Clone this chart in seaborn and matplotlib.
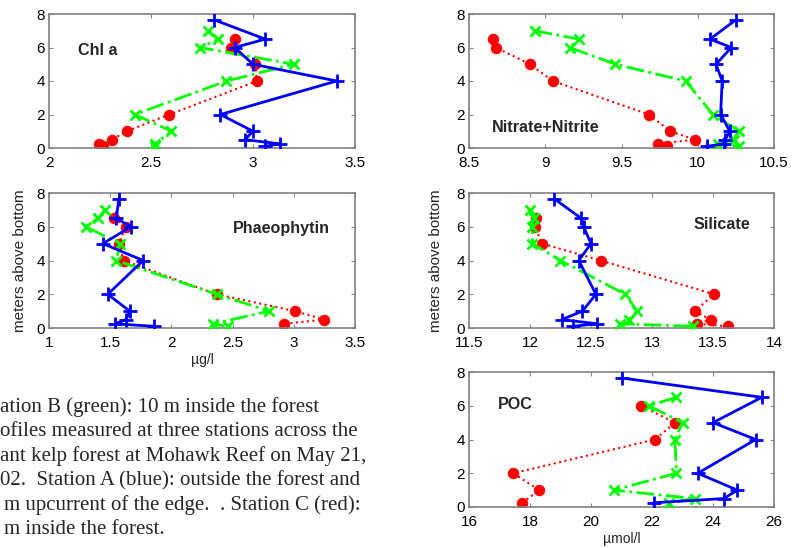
import numpy as np
import pandas as pd
import matplotlib
matplotlib.use("Agg")
import matplotlib.pyplot as plt
import seaborn as sns

sns.set_style("white")
plt.rcParams['font.family'] = ['Liberation Sans', 'DejaVu Sans']

nan = np.nan
# depths (meters above bottom)
depth_A = [7.65, 6.5, 6, 5, 4, 2, 1, 0.5, 0.25, 0.1]
depth_B = [7, 6.5, 6, 5, 4, 2, 1, 0.5, 0.25, 0.1]
depth_C = [6.5, 6, 5, 4, 2, 1, 0.5, 0.25, 0.1]

# Chl a (ug/l)
chl_A = [2.81, 3.06, 2.91, 3.0, 3.41, 2.84, 3.0, 2.96, 3.13, 3.06]
chl_B = [2.78, 2.83, 2.74, 3.20, 2.87, 2.42, 2.60, nan, 2.52, 2.52]
chl_C = [2.91, 2.89, 3.01, 3.02, 2.59, 2.38, 2.31, 2.245, 2.265]

# Nitrate+Nitrite (umol/l)
nit_A = [10.25, 10.08, 10.22, 10.12, 10.16, 10.15, 10.21, 10.18, 10.17, 10.06]
nit_B = [8.93, 9.22, 9.16, 9.46, 9.92, 10.10, 10.27, 10.24, 10.13, 10.27]
nit_C = [8.66, 8.675, 8.90, 9.05, 9.68, 9.82, 9.98, 9.74, 9.80]

# Phaeophytin (ug/l)
pha_A = [1.57, 1.55, 1.67, 1.44, 1.77, 1.48, 1.66, 1.63, 1.54, 1.86]
pha_B = [1.46, 1.40, 1.30, 1.58, 1.55, 2.37, 2.80, nan, 2.34, 2.46]
pha_C = [1.53, 1.63, 1.57, 1.61, 2.37, 3.01, 3.25, 2.92, nan]

# Silicate (umol/l)
sil_A = [12.20, 12.42, 12.44, 12.50, 12.40, 12.54, 12.43, 12.26, 12.55, 12.35]
sil_B = [12.00, 12.03, 12.02, 12.02, 12.25, 12.78, 12.88, 12.81, 12.74, 13.34]
sil_C = [12.05, 12.04, 12.10, 12.58, 13.51, 13.35, 13.48, 13.37, 13.62]

# POC (umol/l)
poc_A = [21.0, 25.6, nan, 24.0, 25.4, 23.5, 24.8, 24.35, 22.05, nan]
poc_B = [nan, 22.8, 21.9, 23.0, 22.75, 22.8, 20.75, 23.4, 22.55, nan]
poc_C = [nan, 21.65, 22.75, 22.1, 17.45, 18.3, nan, 17.75, nan]

panels = [
    # name, A, B, C, xlim, xticks, rect(px), label pos (axes frac), xlabel, ylabel x(px)
    ("Chl a", chl_A, chl_B, chl_C, (2, 3.5), [2, 2.5, 3, 3.5],
     [49, 14, 355, 148], (0.095, 0.73), None, None),
    ("Nitrate+Nitrite", nit_A, nit_B, nit_C, (8.5, 10.5), [8.5, 9, 9.5, 10, 10.5],
     [469, 14, 774, 148], (0.075, 0.15), None, None),
    ("Phaeophytin", pha_A, pha_B, pha_C, (1, 3.5), [1, 1.5, 2, 2.5, 3, 3.5],
     [49, 193, 355, 328], (0.6, 0.74), "\u00b5g/l", 27),
    ("Silicate", sil_A, sil_B, sil_C, (11.5, 14), [11.5, 12, 12.5, 13, 13.5, 14],
     [469, 193, 774, 328], (0.735, 0.77), None, 443),
    ("POC", poc_A, poc_B, poc_C, (16, 26), [16, 18, 20, 22, 24, 26],
     [469, 372, 774, 507], (0.095, 0.76), "\u00b5mol/l", None),
]

W, H = 796, 548
fig = plt.figure(figsize=(W / 100, H / 100), dpi=100)

RED, GREEN, BLUE = (1, 0, 0), (0, 1, 0), (0, 0, 1)

for name, A, B, C, xlim, xticks, (l, t, r, b), lpos, xlabel, ylx in panels:
    ax = fig.add_axes([l / W, 1 - b / H, (r - l) / W, (b - t) / H])
    dA = pd.DataFrame({"x": A, "y": depth_A}).dropna()
    dB = pd.DataFrame({"x": B, "y": depth_B}).dropna()
    dC = pd.DataFrame({"x": C, "y": depth_C}).dropna()
    sns.lineplot(data=dC, x="x", y="y", sort=False, estimator=None, ax=ax,
                 color=RED, linestyle=':', linewidth=1.5, marker='o',
                 markersize=7.5, markeredgecolor=RED, markerfacecolor=RED,
                 zorder=2)
    sns.lineplot(data=dB, x="x", y="y", sort=False, estimator=None, ax=ax,
                 color=GREEN, linestyle='-.', linewidth=2, marker='x',
                 markersize=7, markeredgewidth=2, markeredgecolor=GREEN,
                 zorder=3)
    sns.lineplot(data=dA, x="x", y="y", sort=False, estimator=None, ax=ax,
                 color=BLUE, linestyle='-', linewidth=2, marker='+',
                 markersize=10, markeredgewidth=2, markeredgecolor=BLUE,
                 zorder=4)
    ax.set_xlim(*xlim)
    ax.set_ylim(0, 8)
    ax.set_xticks(xticks)
    ax.set_xticklabels([f"{v:g}" for v in xticks])
    ax.set_yticks([0, 2, 4, 6, 8])
    ax.tick_params(direction='in', length=3, width=0.8, color='#888888',
                   labelsize=11, labelcolor='black', pad=3,
                   top=True, right=True, bottom=True, left=True)
    ax.tick_params(axis='x', pad=6)
    for s in ax.spines.values():
        s.set_color('#808080')
        s.set_linewidth(1.2)
        s.set_visible(True)
    ax.set_xlabel(xlabel if xlabel else "", fontsize=10, labelpad=2)
    if ylx is not None:
        ax.set_ylabel("meters above bottom", fontsize=11)
        ax.yaxis.set_label_coords((ylx - l) / (r - l), 0.5)
    else:
        ax.set_ylabel("")
    ax.text(lpos[0], lpos[1], name, transform=ax.transAxes, ha='left',
            va='center', fontsize=11.6, fontweight='bold')
    ax.grid(False)

caption = [
    (0, "ation B (green): 10 m inside the forest"),
    (0, "ofiles measured at three stations across the"),
    (0, "ant kelp forest at Mohawk Reef on May 21,"),
    (0, "02.  Station A (blue): outside the forest and"),
    (4, "m upcurrent of the edge.  . Station C (red):"),
    (4, "m inside the forest."),
]
y0 = 407
for i, (xp, line) in enumerate(caption):
    fig.text(xp / W, 1 - (y0 + i * 24.5) / H, line, ha='left', va='center',
             fontsize=15, family=['Liberation Serif', 'DejaVu Serif'])

fig.savefig("out.png", dpi=100, facecolor='white')
